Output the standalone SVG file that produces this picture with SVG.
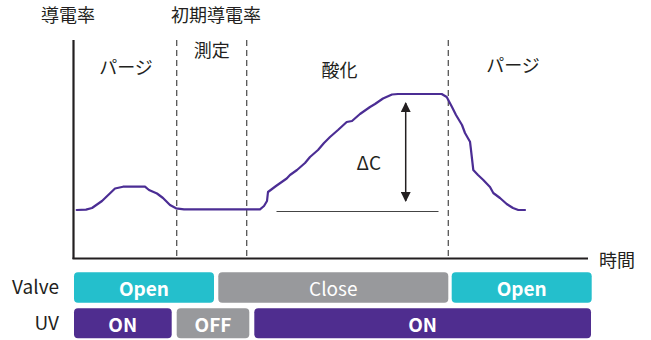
<svg xmlns="http://www.w3.org/2000/svg" width="651" height="340" viewBox="0 0 651 340">
<defs>
<style>
.t{font-family:"Noto Sans CJK JP","Noto Sans",sans-serif;fill:#231f20}
.lbl{font-size:18px}
.row{font-size:19px;text-anchor:end}
.bt{font-family:"Noto Sans CJK JP","Noto Sans",sans-serif;font-size:19px;fill:#fff;text-anchor:middle;font-weight:bold}
.bt.reg{font-weight:normal}
.dash{stroke:#555;stroke-width:1.3;stroke-dasharray:6,4;fill:none}
.teal{fill:#24BFCC}
.gray{fill:#98999C}
.purple{fill:#4F2D8F}
</style>
<marker id="ah" viewBox="0 0 10 10" refX="9" refY="5" markerWidth="10" markerHeight="10" markerUnits="userSpaceOnUse" orient="auto">
<path d="M0,0 L10,5 L0,10 z" fill="#231f20"/>
</marker>
</defs>
<g id="axes">
<line x1="73.5" y1="40" x2="73.5" y2="259" stroke="#231f20" stroke-width="2.2"/>
<line x1="72.5" y1="258.5" x2="588" y2="258.5" stroke="#231f20" stroke-width="2"/>
</g>
<g id="connectors">
<line class="dash" x1="176.7" y1="40" x2="176.7" y2="257"/>
<line class="dash" x1="246.7" y1="40" x2="246.7" y2="257"/>
<line class="dash" x1="448.3" y1="40" x2="448.3" y2="257"/>
<line x1="276.5" y1="211.5" x2="438.5" y2="211.5" stroke="#444" stroke-width="1.2"/>
<line x1="405.7" y1="152" x2="405.7" y2="103" stroke="#231f20" stroke-width="1.5" marker-end="url(#ah)"/>
<line x1="405.7" y1="152" x2="405.7" y2="201" stroke="#231f20" stroke-width="1.5" marker-end="url(#ah)"/>
</g>
<g id="curve">
<path d="M76.7,210 L86,209.6 L92,208 L102,201 L115,188.5 L123,186.7 L145,186.7 L149,190 L157,193.5 L163,198 L170,205 L176,208.3 L184,209.3 L260,209.3 L264,206 L267,201 L268,192 L276,186 L286.7,178.5 L290,175 L297,170 L305,163 L310,157 L318,150 L324,143 L330,137 L338,130 L346.7,122 L352,121 L360,114 L370,107 L375,104 L383,98.5 L392,94.5 L398,94 L441.7,94 L446.7,97 L452,107 L456,115 L462,125 L465,133 L470,141.7 L471,150 L473.3,170 L478,175 L483.3,180 L490,187 L493.3,193 L500,198 L506.7,204 L513,208 L518.3,210 L525,210" fill="none" stroke="#4B2D94" stroke-width="2.2" stroke-linejoin="round" stroke-linecap="round"/>
</g>
<g id="labels">
<text class="t lbl" x="41" y="22">導電率</text>
<text class="t lbl" x="171" y="22">初期導電率</text>
<text class="t lbl" x="126" y="73.5" text-anchor="middle">パージ</text>
<text class="t lbl" x="211.7" y="57" text-anchor="middle">測定</text>
<text class="t lbl" x="339.5" y="77" text-anchor="middle">酸化</text>
<text class="t lbl" x="513" y="72" text-anchor="middle">パージ</text>
<text class="t lbl" x="599" y="267">時間</text>
<text class="t" x="356.5" y="169.5" font-size="19">ΔC</text>
<text class="t row" x="59" y="293.5">Valve</text>
<text class="t row" x="59" y="329.5">UV</text>
</g>
<g id="valve-open-1">
<rect class="teal" x="74" y="272.3" width="140" height="30.4" rx="4"/>
<text class="bt" x="144" y="296">Open</text>
</g>
<g id="valve-close">
<rect class="gray" x="218.3" y="272.3" width="230" height="30.4" rx="4"/>
<text class="bt reg" x="333.3" y="296">Close</text>
</g>
<g id="valve-open-2">
<rect class="teal" x="451.7" y="272.3" width="140" height="30.4" rx="4"/>
<text class="bt" x="521.7" y="296">Open</text>
</g>
<g id="uv-on-1">
<rect class="purple" x="74" y="308.3" width="97.7" height="30" rx="4"/>
<text class="bt" x="122.8" y="331.7">ON</text>
</g>
<g id="uv-off">
<rect class="gray" x="176.7" y="308.3" width="72.6" height="30" rx="4"/>
<text class="bt" x="213" y="331.7">OFF</text>
</g>
<g id="uv-on-2">
<rect class="purple" x="254.3" y="308.3" width="336.7" height="30" rx="4"/>
<text class="bt" x="422.6" y="331.7">ON</text>
</g>
</svg>
